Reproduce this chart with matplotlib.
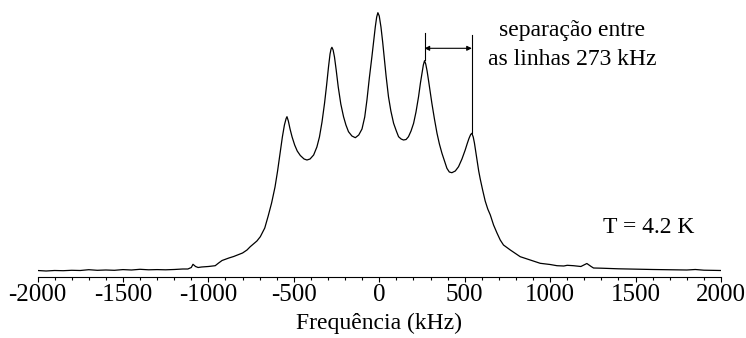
import matplotlib
matplotlib.use("Agg")
import matplotlib.pyplot as plt
from matplotlib.ticker import MultipleLocator

# ---------------- DATA ----------------
freq_khz = [-2000, -1950, -1900, -1850, -1800, -1750, -1700, -1650, -1600, -1550,
            -1500, -1450, -1400, -1350, -1300, -1250, -1200, -1150, -1120, -1100,
            -1090, -1075, -1060, -1040, -1000, -960, -940, -920, -880, -852,
            -800, -774, -755, -716, -696, -670, -650, -630, -610, -595,
            -580, -567, -555, -545, -540, -532, -522, -510, -495, -480,
            -462, -440, -423, -405, -384, -365, -350, -335, -320, -308,
            -297, -288, -282, -277, -270, -262, -252, -240, -225, -209,
            -195, -180, -160, -140, -120, -101, -85, -72, -58, -43,
            -32, -23, -15, -8, 0, 10, 20, 29, 40, 54,
            68, 84, 100, 113, 128, 142, 157, 171, 186, 201,
            215, 230, 241, 250, 258, 265, 272, 280, 288, 298,
            308, 323, 338, 352, 367, 382, 396, 410, 425, 445,
            464, 484, 503, 515, 525, 535, 542, 550, 557, 565,
            572, 582, 591, 605, 620, 635, 650, 669, 689, 708,
            727, 767, 825, 884, 942, 1000, 1040, 1080, 1100, 1137,
            1180, 1215, 1240, 1254, 1300, 1400, 1527, 1600, 1700, 1800,
            1850, 1900, 2000]

intensity = [6.5, 6.0, 6.5, 6.3, 6.7, 6.5, 7.3, 6.7, 7.0, 6.7,
             7.4, 7.0, 7.7, 7.2, 7.4, 7.2, 7.5, 8.0, 8.0, 9.5,
             12.7, 10.5, 9.5, 10.0, 10.5, 11.3, 14.0, 16.5, 19.0, 20.5,
             24.0, 27.0, 30.3, 36.0, 40.3, 49.0, 61.0, 74.0, 90.0, 106.0,
             124.0, 140.0, 152.0, 158.5, 160.3, 156.0, 148.0, 140.0, 132.0, 126.0,
             121.5, 118.0, 117.0, 118.0, 122.0, 130.0, 140.0, 155.0, 174.0, 192.0,
             210.0, 223.0, 228.0, 229.7, 227.0, 220.0, 207.0, 190.0, 173.0, 160.3,
             152.0, 145.3, 141.0, 139.3, 142.0, 148.0, 160.0, 177.0, 199.0, 220.3,
             237.0, 250.3, 260.0, 264.3, 261.0, 250.0, 235.0, 220.0, 201.0, 180.3,
             166.0, 153.7, 146.0, 140.3, 138.0, 137.0, 137.5, 140.3, 146.0, 153.7,
             165.0, 180.3, 194.0, 203.7, 212.0, 216.3, 213.0, 206.0, 197.0, 185.0,
             173.7, 158.0, 143.7, 133.0, 123.7, 116.0, 108.7, 105.0, 104.3, 106.0,
             110.3, 118.0, 127.0, 133.5, 138.5, 142.5, 143.7, 140.0, 134.0, 125.0,
             117.0, 106.0, 98.0, 87.0, 76.0, 68.0, 62.0, 52.0, 44.0, 37.0,
             32.0, 27.0, 20.3, 17.0, 13.7, 12.5, 11.3, 11.0, 11.7, 11.3,
             10.5, 13.5, 10.5, 9.0, 8.8, 8.2, 7.7, 7.5, 7.2, 7.0,
             7.5, 6.8, 6.5]

peak_a = 265      # kHz, peak where the separation bar starts
peak_b = 542      # kHz, next peak
sep_label = ["separação entre", "as linhas 273 kHz"]
temp_label = "T = 4.2 K"

# ---------------- PLOT ----------------
plt.rcParams['font.family'] = ['Liberation Serif', 'DejaVu Serif']
plt.rcParams['axes.unicode_minus'] = False

fig = plt.figure(figsize=(7.46, 3.38), dpi=100)
ax = fig.add_axes([37.5 / 746, 61 / 338, 683.5 / 746, 277 / 338])

ax.plot(freq_khz, intensity, color="black", lw=0.9)

ax.set_xlim(-2000, 2000)
ax.set_ylim(0, 277)

for side in ("left", "right", "top"):
    ax.spines[side].set_visible(False)
ax.spines["bottom"].set_linewidth(0.8)
ax.set_yticks([])

ax.xaxis.set_major_locator(MultipleLocator(500))
ax.xaxis.set_minor_locator(MultipleLocator(100))
ax.tick_params(axis="x", which="major", direction="out", length=3.3, width=0.8,
               labelsize=18, pad=2)
ax.tick_params(axis="x", which="minor", direction="out", length=1.8, width=0.8)
ax.set_xlabel("Frequência (kHz)", fontsize=17, labelpad=5)

# separation marker between two neighbouring lines
ax.plot([peak_a, peak_a], [244, 217], color="black", lw=0.8)
ax.plot([peak_b, peak_b], [242, 144], color="black", lw=0.8)
ax.annotate("", xy=(peak_b, 228.7), xytext=(peak_a, 228.7),
            arrowprops=dict(arrowstyle="<|-|>", color="black", lw=0.8,
                            mutation_scale=7, shrinkA=0, shrinkB=0))

ax.text(1129, 241, sep_label[0], ha="center", va="baseline", fontsize=17)
ax.text(1129, 212, sep_label[1], ha="center", va="baseline", fontsize=17)
ax.text(1574, 43.7, temp_label, ha="center", va="baseline", fontsize=17)

fig.savefig("out.png", dpi=100)
